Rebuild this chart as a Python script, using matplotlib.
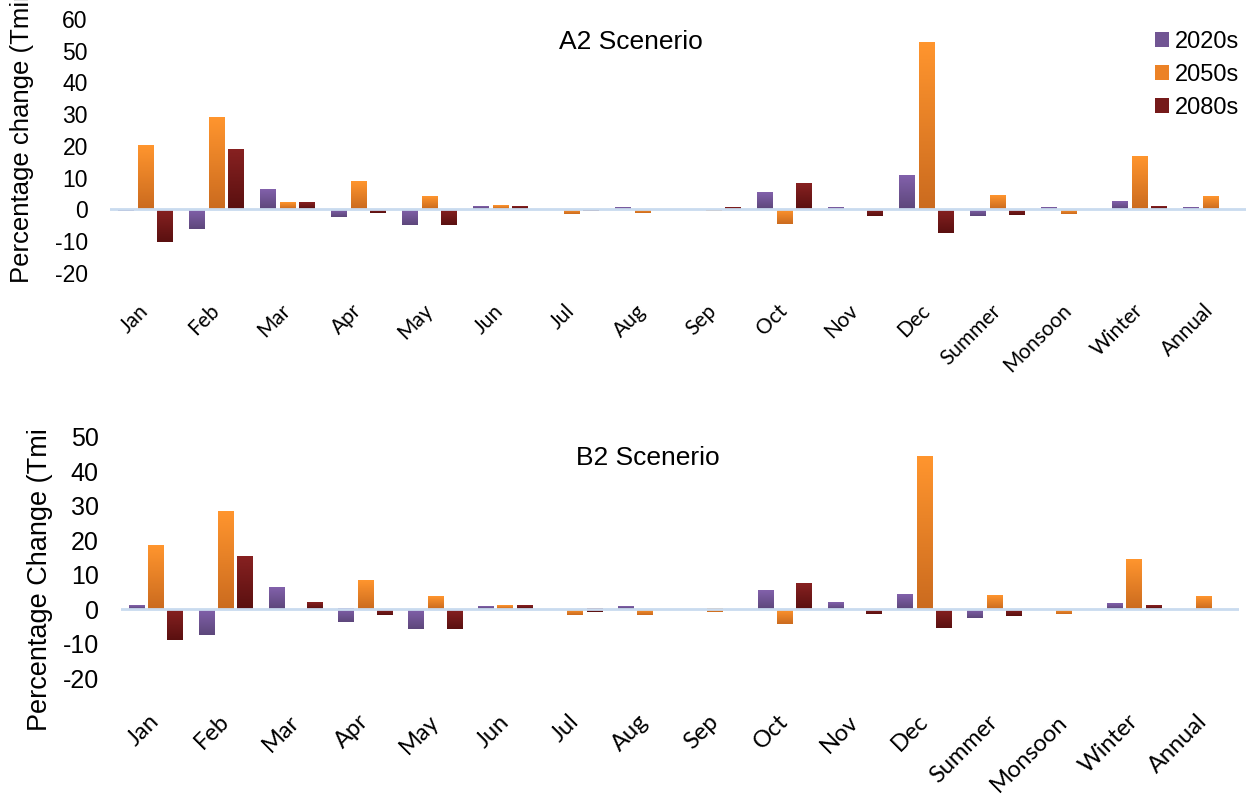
import numpy as np
import matplotlib
matplotlib.use("Agg")
import matplotlib.pyplot as plt
from matplotlib.colors import LinearSegmentedColormap
from matplotlib.patches import Patch
from matplotlib.transforms import Bbox, TransformedBbox

categories = ["Jan", "Feb", "Mar", "Apr", "May", "Jun", "Jul", "Aug", "Sep",
              "Oct", "Nov", "Dec", "Summer", "Monsoon", "Winter", "Annual"]
periods = ["2020s", "2050s", "2080s"]

# A2 scenario, % change in Tmin
a2_2020s = [-0.6, -6.2, 6.2, -2.5, -5.0, 0.7, 0.0, 0.4, 0.0, 5.3, 0.4, 10.7, -2.2, 0.4, 2.5, 0.4]
a2_2050s = [20.0, 28.8, 2.0, 8.6, 4.0, 1.0, -1.5, -1.2, -0.5, -4.7, 0.0, 52.3, 4.3, -1.3, 16.5, 4.0]
a2_2080s = [-10.1, 18.7, 2.0, -1.0, -5.0, 0.7, -0.5, 0.0, 0.4, 8.0, -2.2, -7.3, -1.6, 0.0, 0.7, 0.0]

# B2 scenario, % change in Tmin
b2_2020s = [0.9, -7.5, 6.1, -3.8, -5.8, 0.6, 0.0, 0.6, 0.0, 5.5, 2.0, 4.1, -2.6, 0.0, 1.7, 0.0]
b2_2050s = [18.5, 28.4, 0.0, 8.4, 3.5, 0.9, -1.7, -1.7, -0.9, -4.3, 0.0, 44.3, 3.8, -1.4, 14.5, 3.5]
b2_2080s = [-9.0, 15.3, 2.0, -1.7, -5.8, 0.9, -0.9, 0.0, 0.0, 7.5, -1.4, -5.5, -2.0, 0.0, 0.9, 0.0]

# (top colour, bottom colour) for each period
gradients = [("#8261ab", "#5d477b"), ("#ff952e", "#cb6b1f"), ("#872121", "#5a1010")]
legend_colors = ["#715593", "#ec8226", "#751a1a"]

W, H = 1246, 795
fig = plt.figure(figsize=(W / 100, H / 100), dpi=100)
sans = ["Liberation Sans", "DejaVu Sans"]
label_font = ["Lato", "DejaVu Sans"]


def fx(px):
    return px / W


def fy(py):
    return 1 - py / H


def gradient_bars(ax, x, vals, width, colors):
    bars = ax.bar(x, vals, width, color="none", linewidth=0)
    cmap = LinearSegmentedColormap.from_list("g", [colors[1], colors[0]])
    grad = np.linspace(0, 1, 64).reshape(-1, 1)
    for b in bars:
        h = b.get_height()
        if h == 0:
            continue
        x0 = b.get_x()
        y0 = min(b.get_y(), b.get_y() + h)
        y1 = max(b.get_y(), b.get_y() + h)
        ax.imshow(grad, cmap=cmap, origin="lower", aspect="auto",
                  extent=[x0, x0 + b.get_width(), y0, y1], zorder=2,
                  interpolation="bilinear")


def panel(rect, series, ylim, ticks, tick_fs, xlab_fs, xpad):
    ax = fig.add_axes(rect)
    x = np.arange(len(categories))
    offs = [-0.275, 0.0, 0.275]
    for vals, off, col in zip(series, offs, gradients):
        gradient_bars(ax, x + off, vals, 0.225, col)
    ax.axhline(0, color="#c9dbef", lw=2.0, zorder=3)
    ax.set_xlim(-0.5, len(categories) - 0.5)
    ax.set_ylim(*ylim)
    ax.set_yticks(ticks)
    ax.set_yticklabels([str(t) for t in ticks], family=sans, fontsize=tick_fs)
    ax.set_xticks(x)
    ax.set_xticklabels(categories, rotation=45, ha="right", va="center",
                       rotation_mode="anchor", family=label_font, fontsize=xlab_fs)
    ax.tick_params(axis="y", length=0, pad=16)
    ax.tick_params(axis="x", length=0, pad=xpad)
    for s in ax.spines.values():
        s.set_visible(False)
    return ax


ax1 = panel([fx(110), fy(273), fx(1136), fy(19) - fy(273)],
            [a2_2020s, a2_2050s, a2_2080s], (-20, 60), list(range(-20, 61, 10)),
            16.5, 15, 25)
ax2 = panel([fx(121), fy(678), fx(1118), fy(437) - fy(678)],
            [b2_2020s, b2_2050s, b2_2080s], (-20, 50), list(range(-20, 51, 10)),
            18, 17, 29)

fig.text(fx(631), fy(42), "A2 Scenerio", ha="center", va="center",
         family=sans, fontsize=19)
fig.text(fx(648), fy(458), "B2 Scenerio", ha="center", va="center",
         family=sans, fontsize=19)

fig.text(fx(22), fy(283), "Percentage change (Tmin)", rotation=90,
         ha="center", va="bottom", family=sans, fontsize=18.5)
yl2 = fig.text(fx(40), fy(731), "Percentage Change (Tmin)", rotation=90,
               ha="center", va="bottom", family=sans, fontsize=19.5)
yl2.set_clip_box(TransformedBbox(Bbox([[0, 0], [1, fy(429)]]), fig.transFigure))
yl2.set_clip_on(True)

handles = [Patch(facecolor=c, edgecolor="none") for c in legend_colors]
fig.legend(handles, periods, loc="upper right",
           bbox_to_anchor=(fx(1239), fy(31)), frameon=False,
           prop={"family": sans, "size": 17}, handlelength=0.6,
           handleheight=0.6, handletextpad=0.25, labelspacing=0.47,
           borderpad=0, borderaxespad=0)

fig.savefig("out.png", dpi=100)
